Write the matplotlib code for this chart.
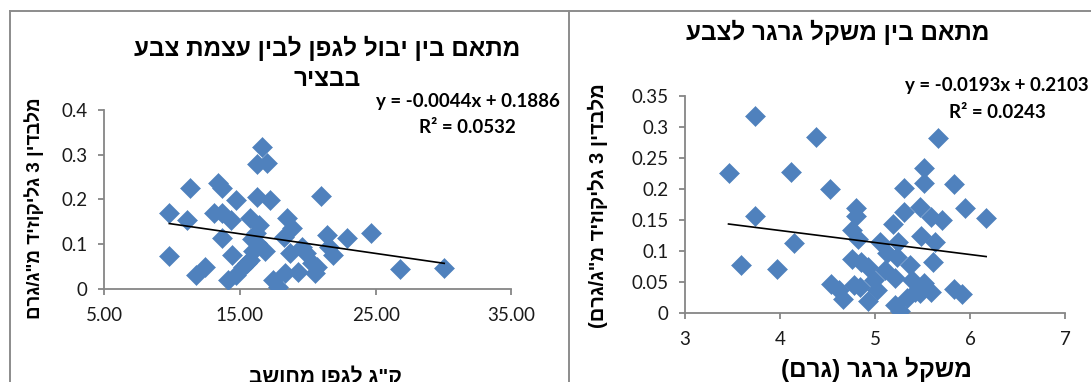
import re
import matplotlib
matplotlib.use("Agg")
import matplotlib.pyplot as plt
from matplotlib.lines import Line2D

plt.rcParams['font.family'] = ['Lato', 'DejaVu Sans']
HEB = ['Liberation Sans', 'DejaVu Sans']

# ---- data: yield per vine vs colour (left) ----
yield_kg = [9.79, 9.79, 11.33, 11.13, 11.77, 12.42, 13.39, 13.70, 13.06, 13.70,
            14.35, 13.70, 14.73, 14.42, 14.09, 14.73, 15.25, 15.76, 16.28, 16.59,
            16.28, 17.00, 17.18, 15.76, 16.41, 16.15, 15.97, 16.85, 16.28, 17.44,
            17.82, 18.34, 18.21, 18.47, 18.85, 18.72, 19.24, 19.57, 19.83, 20.27,
            20.53, 20.66, 20.97, 21.38, 21.56, 21.82, 22.85, 24.65, 26.78, 30.05,
            15.90, 15.50]
malv_left = [0.169, 0.072, 0.226, 0.154, 0.031, 0.049, 0.237, 0.226, 0.169, 0.169,
             0.154, 0.113, 0.198, 0.075, 0.019, 0.031, 0.049, 0.064, 0.206, 0.318,
             0.280, 0.282, 0.198, 0.157, 0.142, 0.124, 0.083, 0.083, 0.101, 0.019,
             0.004, 0.034, 0.116, 0.157, 0.135, 0.079, 0.038, 0.094, 0.079, 0.057,
             0.034, 0.049, 0.207, 0.120, 0.094, 0.075, 0.113, 0.124, 0.043, 0.046,
             0.112, 0.058]
left_slope, left_icpt, left_r2 = -0.0044, 0.1886, 0.0532

# ---- data: berry weight vs colour (right) ----
berry_g = [3.458, 3.741, 3.741, 3.594, 3.972, 4.118, 4.144, 4.375, 4.522, 4.536,
           4.62, 4.668, 4.756, 4.756, 4.80, 4.80, 4.82, 4.78, 4.84, 4.855,
           4.93, 4.925, 4.987, 5.02, 5.05, 5.10, 5.13, 5.19, 5.21, 5.23,
           5.24, 5.30, 5.30, 5.21, 5.26, 5.34, 5.37, 5.39, 5.42, 5.47,
           5.48, 5.52, 5.52, 5.52, 5.59, 5.61, 5.63, 5.59, 5.66, 5.70,
           5.83, 5.83, 5.92, 5.95, 6.17, 5.47]
malv_right = [0.226, 0.318, 0.156, 0.077, 0.071, 0.227, 0.113, 0.284, 0.200, 0.047,
              0.038, 0.023, 0.134, 0.087, 0.169, 0.156, 0.119, 0.046, 0.043, 0.083,
              0.075, 0.019, 0.054, 0.038, 0.115, 0.070, 0.097, 0.144, 0.057, 0.091,
              0.115, 0.201, 0.163, 0.014, 0.003, 0.025, 0.078, 0.054, 0.035, 0.171,
              0.124, 0.233, 0.210, 0.049, 0.155, 0.083, 0.115, 0.034, 0.282, 0.150,
              0.208, 0.039, 0.031, 0.169, 0.154, 0.033]
right_slope, right_icpt, right_r2 = -0.0193, 0.2103, 0.0243

left_xticks = [5, 15, 25, 35]
left_yticks = [0, 0.1, 0.2, 0.3, 0.4]
right_xticks = [3, 4, 5, 6, 7]
right_yticks = [0, 0.05, 0.1, 0.15, 0.2, 0.25, 0.3, 0.35]

title_left = ["מתאם בין יבול לגפן לבין עצמת צבע", "בבציר"]
title_right = "מתאם בין משקל גרגר לצבע"
ylabel_left = 'מלבדין 3 גליקוזיד מ"ג/גרם'
ylabel_right = 'מלבדין 3 גליקוזיד מ"ג/גרם)'
xlabel_left = 'ק"ג לגפן מחושב'
xlabel_right = "משקל גרגר (גרם)"

MIRROR = {'(': ')', ')': '('}


def vis(s):
    """Right-to-left string in display order, keeping numbers intact."""
    toks = re.findall(r'[0-9A-Za-z.]+|.', s)
    return ''.join(MIRROR.get(t, t) for t in reversed(toks))


W, H = 1091, 382
fig = plt.figure(figsize=(W / 100, H / 100), dpi=100)

BLUE = '#4F81BD'
GRAY = '#868686'
TICK_FS = 13.5


def style(ax):
    for sp in ('top', 'right'):
        ax.spines[sp].set_visible(False)
    for sp in ('left', 'bottom'):
        ax.spines[sp].set_color(GRAY)
        ax.spines[sp].set_linewidth(1.3)
    ax.tick_params(direction='out', length=4, width=1.3, color=GRAY,
                   labelsize=TICK_FS, labelcolor='#1a1a1a')


def px(x0, y_top, x1, y_bot):
    return [x0 / W, 1 - y_bot / H, (x1 - x0) / W, (y_bot - y_top) / H]


# left chart
axL = fig.add_axes(px(104.3, 110, 511.4, 288.5))
axL.plot(yield_kg, malv_left, 'D', color=BLUE, ms=10, mec=BLUE, mew=0.4, zorder=3)
xl = [min(yield_kg), max(yield_kg)]
axL.plot(xl, [left_slope * v + left_icpt for v in xl], color='black', lw=1.2, zorder=4)
axL.set_xlim(5, 35)
axL.set_ylim(0, 0.4)
axL.set_xticks(left_xticks)
axL.set_xticklabels([f"{v:.2f}" for v in left_xticks])
axL.set_yticks(left_yticks)
axL.set_yticklabels(["0", "0.1", "0.2", "0.3", "0.4"])
style(axL)
axL.tick_params(axis='x', pad=9)
axL.tick_params(axis='y', pad=8)

# right chart
axR = fig.add_axes(px(685, 95.6, 1065, 313.3))
axR.plot(berry_g, malv_right, 'D', color=BLUE, ms=10, mec=BLUE, mew=0.4, zorder=3)
xr = [min(berry_g), max(berry_g)]
axR.plot(xr, [right_slope * v + right_icpt for v in xr], color='black', lw=1.2, zorder=4)
axR.set_xlim(3, 7)
axR.set_ylim(0, 0.35)
axR.set_xticks(right_xticks)
axR.set_yticks(right_yticks)
axR.set_yticklabels(["0", "0.05", "0.1", "0.15", "0.2", "0.25", "0.3", "0.35"])
style(axR)
axR.tick_params(axis='x', pad=9)
axR.tick_params(axis='y', pad=8)


def ftext(x, y, s, **kw):
    fig.text(x / W, 1 - y / H, s, **kw)


# titles
ftext(327, 48, vis(title_left[0]), ha='center', va='center', fontsize=17.5,
      fontweight='bold', family=HEB)
ftext(327, 79, vis(title_left[1]), ha='center', va='center', fontsize=17.5,
      fontweight='bold', family=HEB)
ftext(838, 32, vis(title_right), ha='center', va='center', fontsize=17.5,
      fontweight='bold', family=HEB)

# axis titles
ftext(34, 208, vis(ylabel_left), ha='center', va='center', rotation=90,
      fontsize=13.5, fontweight='bold', family=HEB)
ftext(598, 206, vis(ylabel_right), ha='center', va='center', rotation=90,
      fontsize=14.5, fontweight='bold', family=HEB)
ftext(325, 376, vis(xlabel_left), ha='center', va='center', fontsize=15,
      fontweight='bold', family=HEB)
ftext(876, 369, vis(xlabel_right), ha='center', va='center', fontsize=17.5,
      fontweight='bold', family=HEB)

# trendline equations
ftext(560, 101, f"y = {left_slope:.4f}x + {left_icpt:.4f}", ha='right', va='center',
      fontsize=13.5, fontweight='bold')
ftext(467, 127, f"R² = {left_r2:.4f}", ha='center', va='center',
      fontsize=13.5, fontweight='bold')
ftext(1089, 86, f"y = {right_slope:.4f}x + {right_icpt:.4f}", ha='right', va='center',
      fontsize=13.5, fontweight='bold')
ftext(997, 112, f"R² = {right_r2:.4f}", ha='center', va='center',
      fontsize=13.5, fontweight='bold')

# chart-area frames
frame = dict(color='#8c8c8c', lw=1.4, transform=fig.transFigure)
fig.add_artist(Line2D([10 / W, 1], [1 - 11 / H, 1 - 11 / H], **frame))
fig.add_artist(Line2D([10 / W, 10 / W], [0, 1 - 11 / H], **frame))
fig.add_artist(Line2D([569 / W, 569 / W], [0, 1 - 11 / H], **frame))

fig.savefig('out.png', dpi=100, facecolor='white')
